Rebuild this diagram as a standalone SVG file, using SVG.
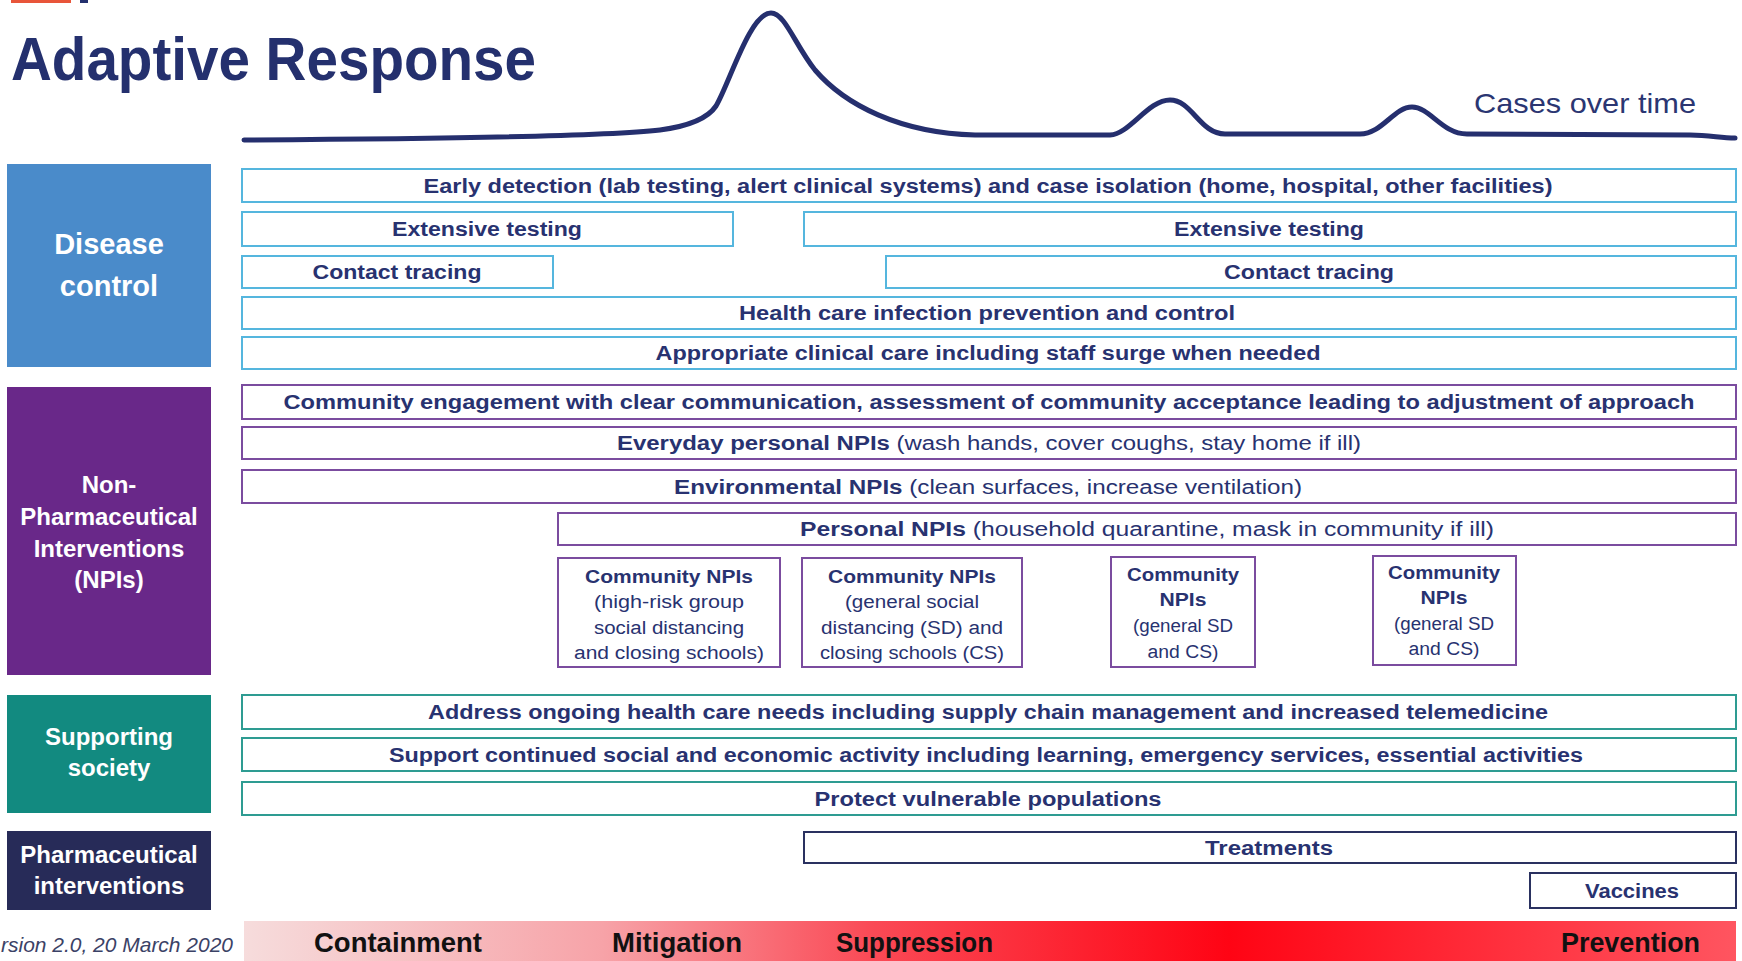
<svg xmlns="http://www.w3.org/2000/svg" width="1742" height="961" viewBox="0 0 1742 961">
<style>
.bg{fill:#ffffff}
.rdc{fill:#fff;stroke:#55b6de;stroke-width:2}
.rnp{fill:#fff;stroke:#7b4c9f;stroke-width:2}
.rss{fill:#fff;stroke:#2e9c92;stroke-width:2}
.rph{fill:#fff;stroke:#2a3160;stroke-width:2}
.t{font-family:"Liberation Sans",Arial,sans-serif;font-size:20px;font-weight:700;fill:#283270;text-anchor:middle}
.cb{font-size:18px}
.rg{font-weight:400}
.cat{font-family:"Liberation Sans",Arial,sans-serif;font-weight:700;fill:#ffffff;text-anchor:middle}
.ph{font-family:"Liberation Sans",Arial,sans-serif;font-weight:700;fill:#111111;font-size:27px}
</style>
<defs>
<linearGradient id="phase" x1="244" y1="0" x2="1736" y2="0" gradientUnits="userSpaceOnUse">
<stop offset="0" stop-color="#f6dcdc"/>
<stop offset="0.24" stop-color="#f7a3a8"/>
<stop offset="0.42" stop-color="#fa4a56"/>
<stop offset="0.66" stop-color="#ff0414"/>
<stop offset="1" stop-color="#ff5560"/>
</linearGradient>
</defs>
<rect class="bg" x="0" y="0" width="1742" height="961"/>

<g id="header">
<rect x="11" y="0" width="60" height="3" fill="#e8553a"/>
<rect x="80" y="0" width="8" height="3" fill="#24306e"/>
<text x="11" y="80" font-family="Liberation Sans, Arial, sans-serif" font-weight="700" font-size="61" fill="#24306e" textLength="525" lengthAdjust="spacingAndGlyphs">Adaptive Response</text>
<path d="M244,140 C420,139 600,137 660,130 C690,126 708,118 716,106 C730,82 750,13 771,13 C785,13 795,45 815,70 C845,105 900,133 975,135 L1110,135 C1130,134 1148,100 1170,100 C1192,100 1200,134 1225,134 L1360,134 C1382,134 1394,107 1412,107 C1430,107 1442,134 1467,134 L1690,135 C1710,135 1720,138 1735,138" fill="none" stroke="#252f6e" stroke-width="5" stroke-linecap="round"/>
<text x="1474" y="113" font-family="Liberation Sans, Arial, sans-serif" font-size="28" fill="#2b3672" textLength="222" lengthAdjust="spacingAndGlyphs">Cases over time</text>
</g>

<g id="disease-control">
<rect x="7" y="164" width="204" height="203" fill="#4a8bca"/>
<text class="cat" x="109" y="254" font-size="29">Disease</text>
<text class="cat" x="109" y="296" font-size="29">control</text>
</g>
<g id="dc-early-detection">
<rect class="rdc" x="242" y="169" width="1494" height="33"/>
<text class="t" x="988" y="192.5" textLength="1129" lengthAdjust="spacingAndGlyphs">Early detection (lab testing, alert clinical systems) and case isolation (home, hospital, other facilities)</text>
</g>
<g id="dc-testing-1">
<rect class="rdc" x="242" y="212" width="491" height="34"/>
<text class="t" x="487" y="236" textLength="190" lengthAdjust="spacingAndGlyphs">Extensive testing</text>
</g>
<g id="dc-testing-2">
<rect class="rdc" x="804" y="212" width="932" height="34"/>
<text class="t" x="1269" y="236" textLength="190" lengthAdjust="spacingAndGlyphs">Extensive testing</text>
</g>
<g id="dc-tracing-1">
<rect class="rdc" x="242" y="256" width="311" height="32"/>
<text class="t" x="397" y="279" textLength="169" lengthAdjust="spacingAndGlyphs">Contact tracing</text>
</g>
<g id="dc-tracing-2">
<rect class="rdc" x="886" y="256" width="850" height="32"/>
<text class="t" x="1309" y="279" textLength="170" lengthAdjust="spacingAndGlyphs">Contact tracing</text>
</g>
<g id="dc-ipc">
<rect class="rdc" x="242" y="297" width="1494" height="32"/>
<text class="t" x="987" y="320" textLength="496" lengthAdjust="spacingAndGlyphs">Health care infection prevention and control</text>
</g>
<g id="dc-clinical">
<rect class="rdc" x="242" y="337" width="1494" height="32"/>
<text class="t" x="988" y="360" textLength="665" lengthAdjust="spacingAndGlyphs">Appropriate clinical care including staff surge when needed</text>
</g>

<g id="npi">
<rect x="7" y="387" width="204" height="288" fill="#692889"/>
<text class="cat" x="109" y="493" font-size="24">Non-</text>
<text class="cat" x="109" y="525" font-size="24">Pharmaceutical</text>
<text class="cat" x="109" y="557" font-size="24">Interventions</text>
<text class="cat" x="109" y="588" font-size="24">(NPIs)</text>
</g>
<g id="npi-community-engagement">
<rect class="rnp" x="242" y="385" width="1494" height="34"/>
<text class="t" x="989" y="409" textLength="1411" lengthAdjust="spacingAndGlyphs">Community engagement with clear communication, assessment of community acceptance leading to adjustment of approach</text>
</g>
<g id="npi-everyday">
<rect class="rnp" x="242" y="427" width="1494" height="32"/>
<text class="t" x="989" y="450" textLength="744" lengthAdjust="spacingAndGlyphs">Everyday personal NPIs<tspan class="rg"> (wash hands, cover coughs, stay home if ill)</tspan></text>
</g>
<g id="npi-environmental">
<rect class="rnp" x="242" y="470" width="1494" height="33"/>
<text class="t" x="988" y="493.5" textLength="628" lengthAdjust="spacingAndGlyphs">Environmental NPIs<tspan class="rg"> (clean surfaces, increase ventilation)</tspan></text>
</g>
<g id="npi-personal">
<rect class="rnp" x="558" y="513" width="1178" height="32"/>
<text class="t" x="1147" y="536" textLength="694" lengthAdjust="spacingAndGlyphs">Personal NPIs<tspan class="rg"> (household quarantine, mask in community if ill)</tspan></text>
</g>
<g id="npi-community-1">
<rect class="rnp" x="558" y="558" width="222" height="109"/>
<text class="t cb" x="669" y="583" textLength="168" lengthAdjust="spacingAndGlyphs">Community NPIs</text>
<text class="t cb rg" x="669" y="608" textLength="150" lengthAdjust="spacingAndGlyphs">(high-risk group</text>
<text class="t cb rg" x="669" y="634" textLength="150" lengthAdjust="spacingAndGlyphs">social distancing</text>
<text class="t cb rg" x="669" y="659" textLength="190" lengthAdjust="spacingAndGlyphs">and closing schools)</text>
</g>
<g id="npi-community-2">
<rect class="rnp" x="802" y="558" width="220" height="109"/>
<text class="t cb" x="912" y="583" textLength="168" lengthAdjust="spacingAndGlyphs">Community NPIs</text>
<text class="t cb rg" x="912" y="608" textLength="134" lengthAdjust="spacingAndGlyphs">(general social</text>
<text class="t cb rg" x="912" y="634" textLength="182" lengthAdjust="spacingAndGlyphs">distancing (SD) and</text>
<text class="t cb rg" x="912" y="659" textLength="184" lengthAdjust="spacingAndGlyphs">closing schools (CS)</text>
</g>
<g id="npi-community-3">
<rect class="rnp" x="1111" y="557" width="144" height="110"/>
<text class="t cb" x="1183" y="581" textLength="112" lengthAdjust="spacingAndGlyphs">Community</text>
<text class="t cb" x="1183" y="606" textLength="47" lengthAdjust="spacingAndGlyphs">NPIs</text>
<text class="t cb rg" x="1183" y="632" textLength="100" lengthAdjust="spacingAndGlyphs">(general SD</text>
<text class="t cb rg" x="1183" y="658" textLength="71" lengthAdjust="spacingAndGlyphs">and CS)</text>
</g>
<g id="npi-community-4">
<rect class="rnp" x="1373" y="556" width="143" height="109"/>
<text class="t cb" x="1444" y="579" textLength="112" lengthAdjust="spacingAndGlyphs">Community</text>
<text class="t cb" x="1444" y="604" textLength="47" lengthAdjust="spacingAndGlyphs">NPIs</text>
<text class="t cb rg" x="1444" y="630" textLength="100" lengthAdjust="spacingAndGlyphs">(general SD</text>
<text class="t cb rg" x="1444" y="655" textLength="71" lengthAdjust="spacingAndGlyphs">and CS)</text>
</g>

<g id="supporting-society">
<rect x="7" y="695" width="204" height="118" fill="#128a80"/>
<text class="cat" x="109" y="745" font-size="24">Supporting</text>
<text class="cat" x="109" y="776" font-size="24">society</text>
</g>
<g id="ss-health-care">
<rect class="rss" x="242" y="695" width="1494" height="34"/>
<text class="t" x="988" y="719" textLength="1120" lengthAdjust="spacingAndGlyphs">Address ongoing health care needs including supply chain management and increased telemedicine</text>
</g>
<g id="ss-activity">
<rect class="rss" x="242" y="738" width="1494" height="33"/>
<text class="t" x="986" y="761.5" textLength="1194" lengthAdjust="spacingAndGlyphs">Support continued social and economic activity including learning, emergency services, essential activities</text>
</g>
<g id="ss-vulnerable">
<rect class="rss" x="242" y="782" width="1494" height="33"/>
<text class="t" x="988" y="805.5" textLength="347" lengthAdjust="spacingAndGlyphs">Protect vulnerable populations</text>
</g>

<g id="pharmaceutical">
<rect x="7" y="831" width="204" height="79" fill="#272b58"/>
<text class="cat" x="109" y="863" font-size="24">Pharmaceutical</text>
<text class="cat" x="109" y="894" font-size="24">interventions</text>
</g>
<g id="ph-treatments">
<rect class="rph" x="804" y="832" width="932" height="31"/>
<text class="t" x="1269" y="854.5" textLength="128" lengthAdjust="spacingAndGlyphs">Treatments</text>
</g>
<g id="ph-vaccines">
<rect class="rph" x="1530" y="873" width="206" height="35"/>
<text class="t" x="1632" y="897.5" textLength="94" lengthAdjust="spacingAndGlyphs">Vaccines</text>
</g>

<g id="phases">
<rect x="244" y="921" width="1492" height="40" fill="url(#phase)"/>
<text class="ph" x="314" y="952" textLength="168" lengthAdjust="spacingAndGlyphs">Containment</text>
<text class="ph" x="612" y="952" textLength="130" lengthAdjust="spacingAndGlyphs">Mitigation</text>
<text class="ph" x="836" y="952" textLength="157" lengthAdjust="spacingAndGlyphs">Suppression</text>
<text class="ph" x="1561" y="952" textLength="139" lengthAdjust="spacingAndGlyphs">Prevention</text>
</g>
<g id="version">
<text x="1" y="952" font-family="Liberation Sans, Arial, sans-serif" font-style="italic" font-size="21" fill="#3b4266" textLength="232" lengthAdjust="spacingAndGlyphs">rsion 2.0, 20 March 2020</text>
</g>
<g id="connectors"></g>
</svg>
